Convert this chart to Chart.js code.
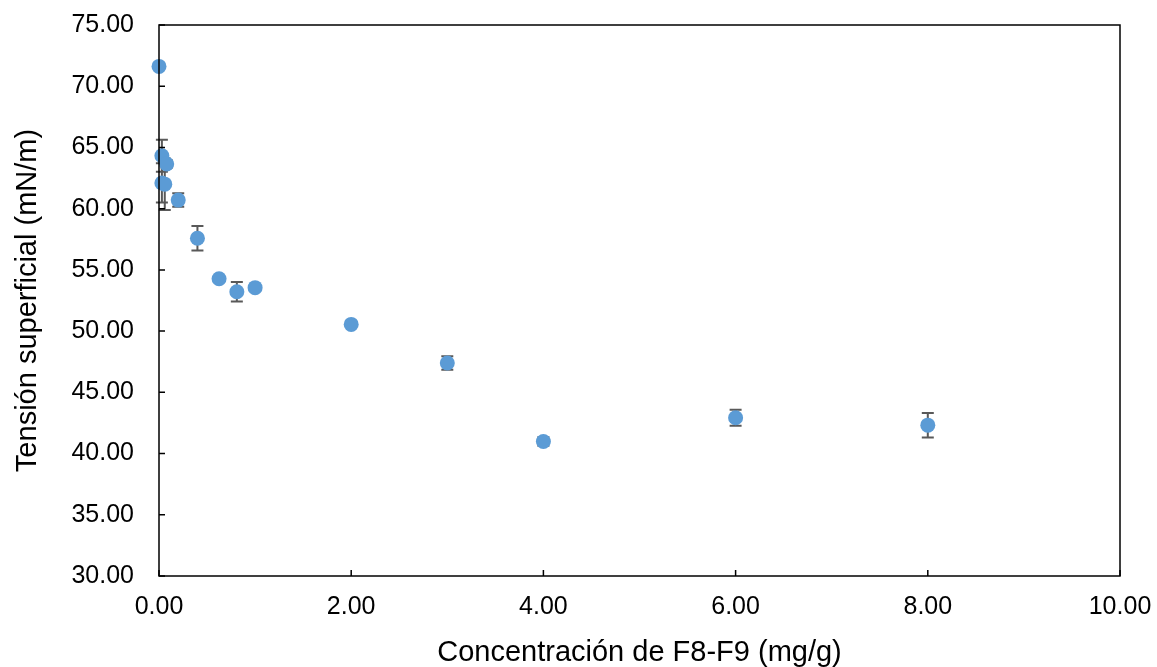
<!DOCTYPE html>
<html><head><meta charset="utf-8">
<script src="https://cdn.jsdelivr.net/npm/chart.js@4/dist/chart.umd.min.js"></script>
<style>html,body{margin:0;padding:0;background:#fff}#wrap{width:1157px;height:667px}</style>
</head><body><div id="wrap"><canvas id="c" width="1157" height="667"></canvas></div>
<script>
const concentration = [0.00, 0.03, 0.08, 0.03, 0.06, 0.20, 0.40, 0.625, 0.81, 1.00, 2.00, 3.00, 4.00, 6.00, 8.00];
const tension = [71.62, 64.32, 63.65, 62.10, 62.00, 60.70, 57.58, 54.28, 53.22, 53.55, 50.55, 47.40, 40.98, 42.92, 42.32];
const errorValues = [0, 1.3, 0.3, 1.6, 2.1, 0.55, 1.0, 0, 0.8, 0, 0, 0.55, 0.35, 0.65, 1.0];
const xTitle = 'Concentración de F8-F9 (mg/g)';
const yTitle = 'Tensión superficial (mN/m)';

const points = concentration.map((x, i) => ({x: x, y: tension[i]}));

const errorBarPlugin = {
  id: 'errorBars',
  beforeDatasetsDraw(chart) {
    const ctx = chart.ctx, xs = chart.scales.x, ys = chart.scales.y;
    ctx.save();
    ctx.strokeStyle = '#595959';
    ctx.lineWidth = 2;
    points.forEach((p, i) => {
      const e = errorValues[i];
      if (!e) return;
      const px = xs.getPixelForValue(p.x);
      const top = ys.getPixelForValue(p.y + e), bot = ys.getPixelForValue(p.y - e);
      ctx.beginPath();
      ctx.moveTo(px, top); ctx.lineTo(px, bot);
      ctx.moveTo(px - 6, top); ctx.lineTo(px + 6, top);
      ctx.moveTo(px - 6, bot); ctx.lineTo(px + 6, bot);
      ctx.stroke();
    });
    ctx.restore();
  },
  afterDraw(chart) {
    const ctx = chart.ctx, a = chart.chartArea, xs = chart.scales.x, ys = chart.scales.y;
    ctx.save();
    ctx.strokeStyle = '#000';
    ctx.lineWidth = 1.5;
    ctx.strokeRect(a.left, a.top, a.right - a.left, a.bottom - a.top);
    ctx.beginPath();
    ys.ticks.forEach(t => {
      const py = ys.getPixelForValue(t.value);
      ctx.moveTo(a.left, py); ctx.lineTo(a.left + 6, py);
    });
    xs.ticks.forEach(t => {
      const px = xs.getPixelForValue(t.value);
      ctx.moveTo(px, a.bottom); ctx.lineTo(px, a.bottom - 6);
    });
    ctx.stroke();
    ctx.restore();
  }
};

const tickFont = {family: 'Liberation Sans, Arial', size: 25};
const titleFont = {family: 'Liberation Sans, Arial', size: 29, lineHeight: 1};

new Chart(document.getElementById('c'), {
  type: 'scatter',
  data: {datasets: [{
    data: points,
    backgroundColor: '#5B9BD5',
    borderColor: '#5B9BD5',
    pointRadius: 7.5,
    pointHoverRadius: 7.5,
    borderWidth: 0,
    clip: false
  }]},
  options: {
    responsive: false,
    animation: false,
    layout: {padding: {left: 0, top: 25, right: 37, bottom: 0}},
    plugins: {legend: {display: false}, tooltip: {enabled: false}},
    scales: {
      x: {
        type: 'linear', min: 0, max: 10,
        ticks: {stepSize: 2, color: '#000', padding: 16, font: tickFont,
          callback: v => Number(v).toFixed(2)},
        grid: {display: false, drawTicks: false},
        border: {display: false},
        title: {display: true, text: xTitle, color: '#000', font: titleFont, padding: {top: 0, bottom: 0}},
        afterFit: s => { s.height = 91; s.paddingLeft = 0; s.paddingRight = 0; }
      },
      y: {
        type: 'linear', min: 30, max: 75,
        ticks: {stepSize: 5, color: '#000', padding: 25, font: tickFont,
          callback: v => Number(v).toFixed(2)},
        grid: {display: false, drawTicks: false},
        border: {display: false},
        title: {display: true, text: yTitle, color: '#000', font: titleFont, padding: {top: 13, bottom: 0}},
        afterFit: s => { s.width = 159; s.paddingTop = 0; s.paddingBottom = 0; }
      }
    }
  },
  plugins: [errorBarPlugin]
});
</script></body></html>
